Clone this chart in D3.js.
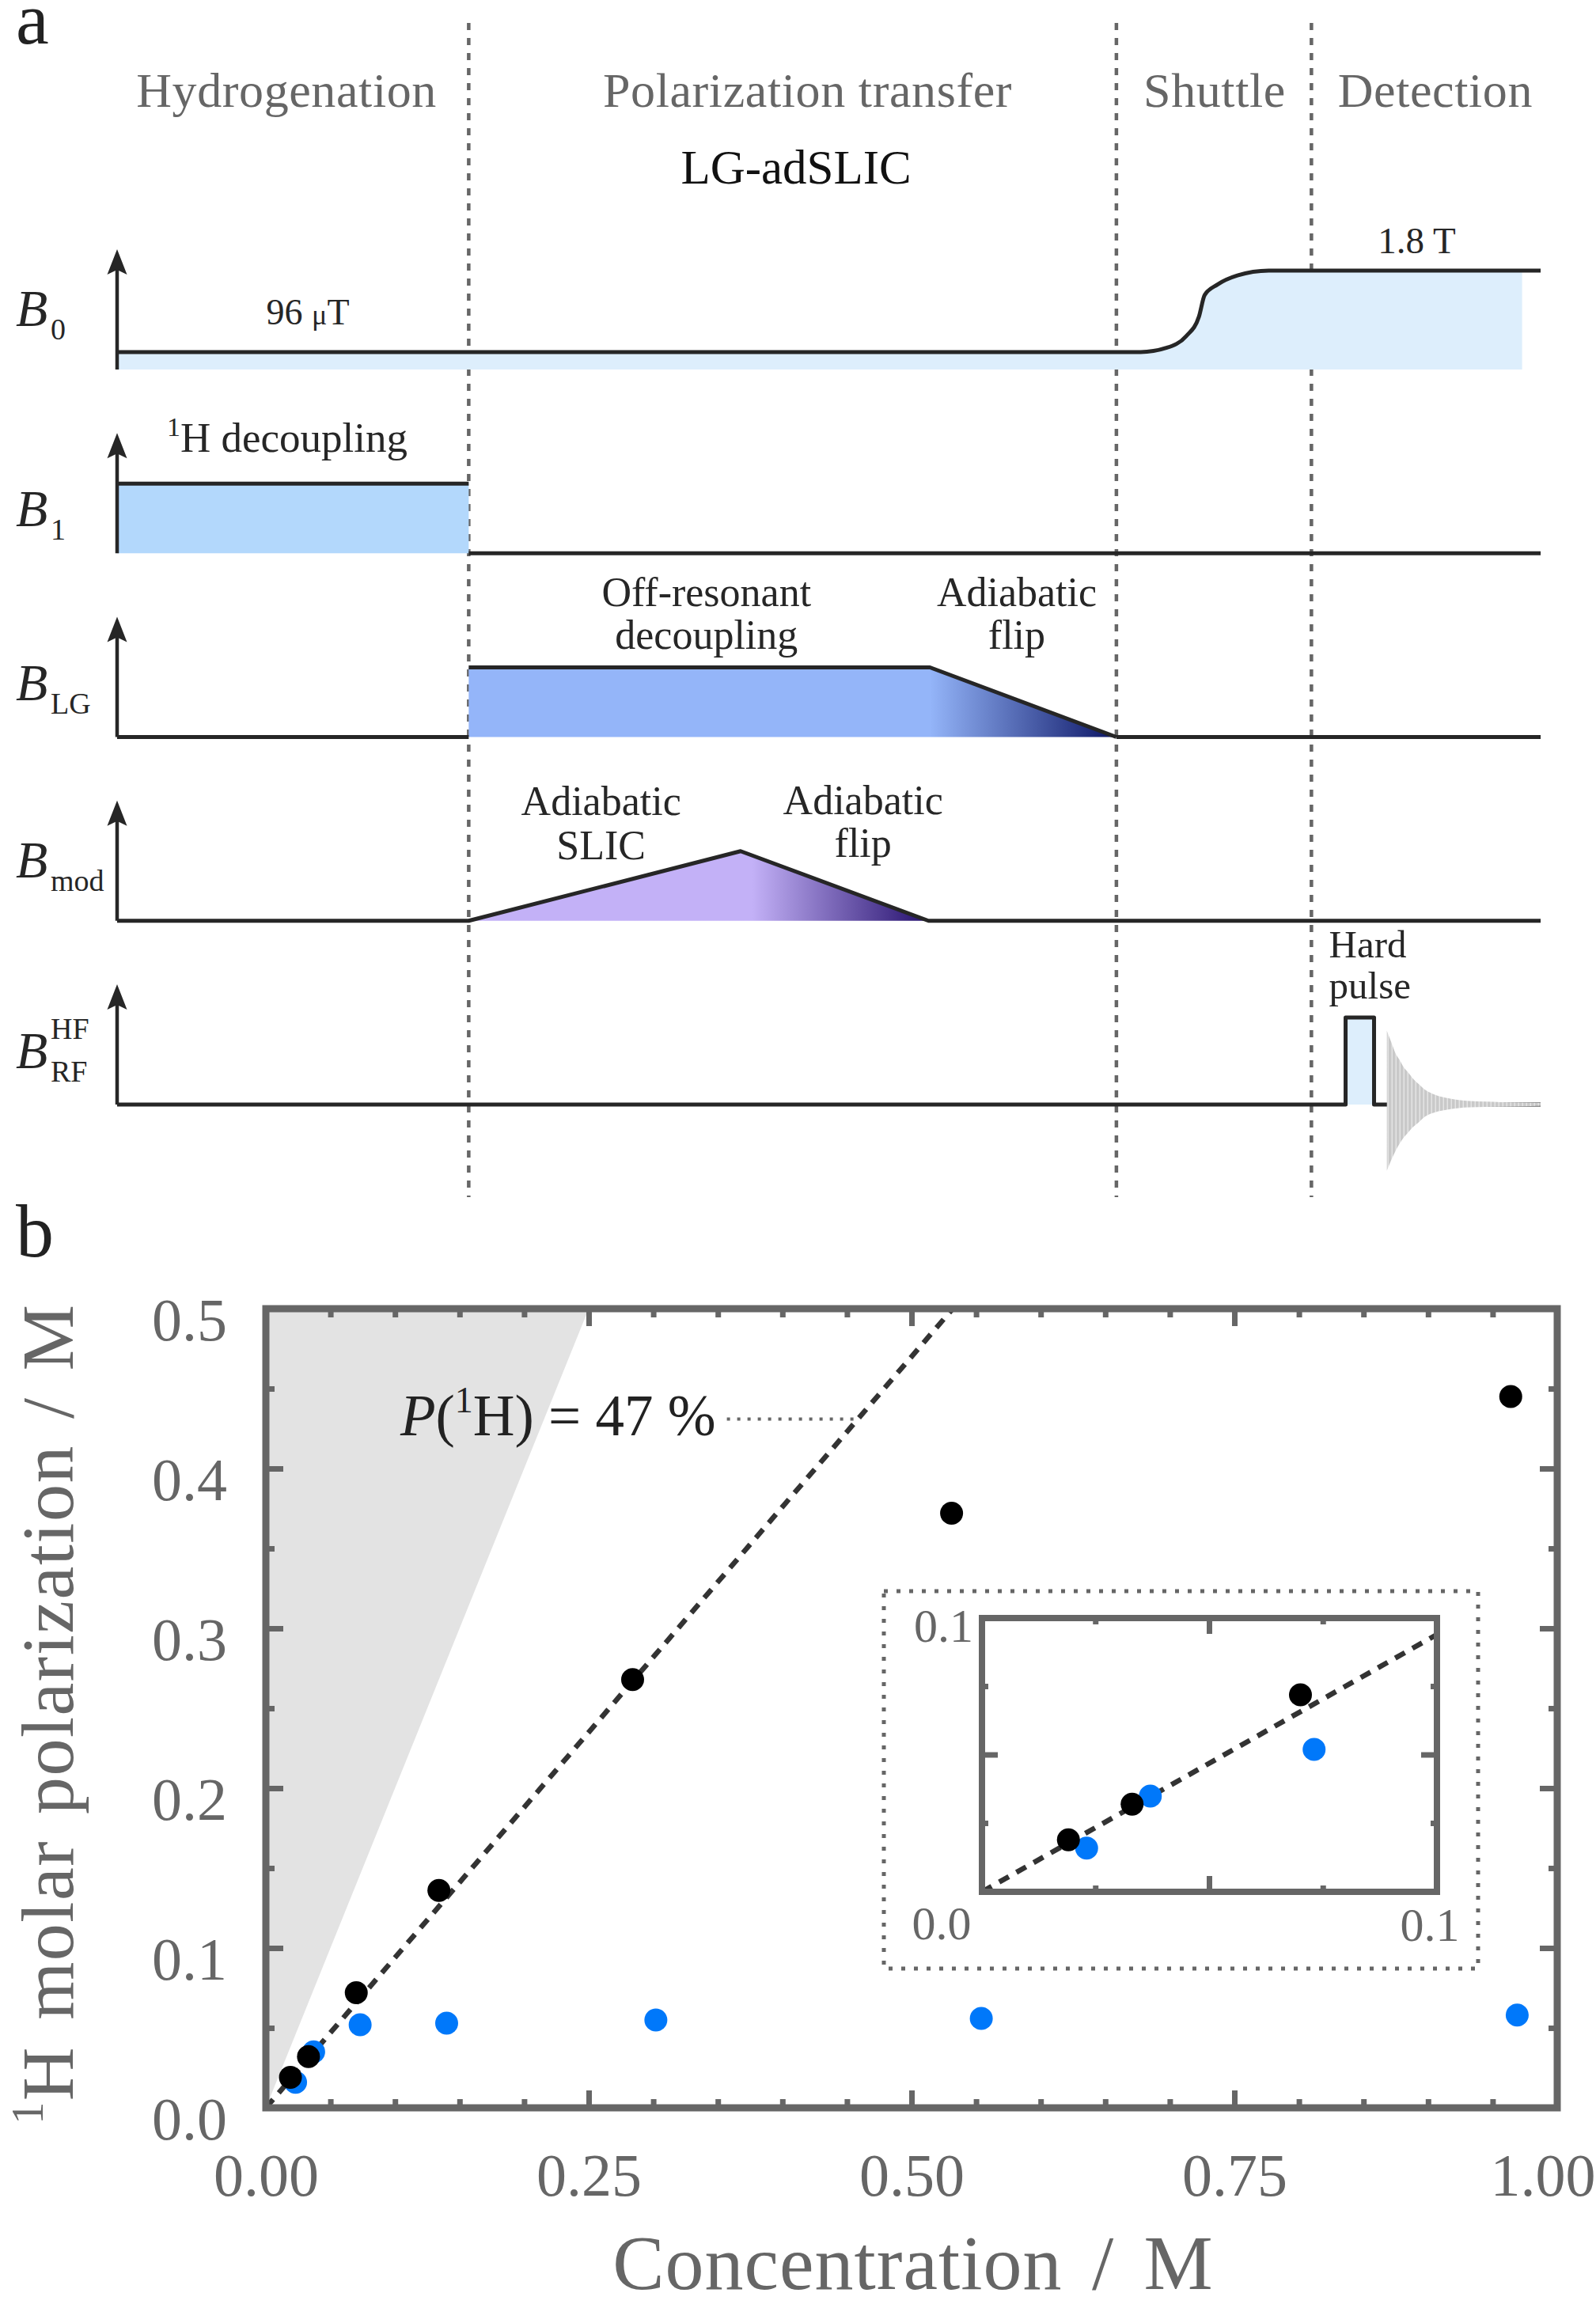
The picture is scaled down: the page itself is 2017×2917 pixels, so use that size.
<!DOCTYPE html>
<html>
<head>
<meta charset="utf-8">
<script src="https://cdn.jsdelivr.net/npm/d3@7"></script>
<style>
  body { margin: 0; background: #fff; }
  svg text { font-family: "Liberation Serif", "Times New Roman", serif; }
</style>
</head>
<body>
<svg id="fig" width="2017" height="2917"></svg>
<script>
// ---------- panel a : sequence (time in a.u. 0-100, field level in units of B1) ----------
const phaseNames   = ["Hydrogenation", "Polarization transfer", "Shuttle", "Detection"];
const phaseCentres = [11.9, 48.5, 77.1, 92.6];
const phaseBounds  = [24.7, 70.2, 83.9];

const b0Time   = [0, 71.9, 73.7, 75.1, 76.0, 76.4, 77.3, 78.7, 80.9, 84.0, 98.7, 100];
const b0Level  = [0.25, 0.25, 0.31, 0.48, 0.76, 1.07, 1.22, 1.35, 1.42, 1.42, 1.42, 1.42];
const b0FillEnd = 98.7;

const b1Time   = [0, 24.7];
const lgTime   = [24.7, 57.1, 70.2];
const lgLevel  = [1, 1, 0];
const modTime  = [24.7, 43.8, 57.0];
const modLevel = [0, 1, 0];
const pulseTime  = [86.3, 88.3];
const pulseLevel = 1.25;
const fidTime  = [89.2, 89.5, 89.8, 90.1, 90.4, 90.7, 91.0, 91.4, 91.9, 92.6, 93.5, 95.0, 97.2, 100];
const fidUpper = [1.06, 0.90, 0.74, 0.64, 0.53, 0.46, 0.38, 0.30, 0.21, 0.14, 0.09, 0.05, 0.035, 0.023];
const fidLower = [0.95, 0.80, 0.67, 0.56, 0.47, 0.40, 0.33, 0.26, 0.17, 0.11, 0.07, 0.04, 0.03, 0.02];

// ---------- panel b : polarization vs concentration ----------
const concBlack = [0.019, 0.033, 0.070, 0.134, 0.284, 0.531, 0.964];
const polBlack  = [0.019, 0.032, 0.072, 0.136, 0.268, 0.372, 0.445];
const concBlue  = [0.023, 0.037, 0.073, 0.140, 0.302, 0.554, 0.969];
const polBlue   = [0.016, 0.035, 0.052, 0.053, 0.055, 0.056, 0.058];
const fitSlope  = 0.94;   // 2 x 47 %
const fullSlope = 2;      // 100 % of both protons
const xTicks = [0, 0.25, 0.5, 0.75, 1];
const yTicks = [0, 0.1, 0.2, 0.3, 0.4, 0.5];
const insetTicks = [0.025, 0.05, 0.075];

const svg = d3.select("#fig");
svg.append("rect").attr("width", 2017).attr("height", 2917).attr("fill", "#fff");
const ink = "#262626", grey = "#666";

/**
 * Panel a
 */
const t = d3.scaleLinear([0, 100], [148, 1947]);
const rowBase = d3.scaleLinear([0, 4], [467, 1396]);
const amp = d3.scaleLinear([0, 1], [0, 88]);
const yAt = (row, level) => rowBase(row) - amp(level);

const defs = svg.append("defs");
function gradient(id, t0, t1, c0, c1) {
  const g = defs.append("linearGradient").attr("id", id)
    .attr("gradientUnits", "userSpaceOnUse")
    .attr("x1", t(t0)).attr("x2", t(t1)).attr("y1", 0).attr("y2", 0);
  g.append("stop").attr("offset", 0).attr("stop-color", c0);
  g.append("stop").attr("offset", 1).attr("stop-color", c1);
}
gradient("gradLG", lgTime[1], lgTime[2], "#94b5f9", "#0c1565");
gradient("gradMod", modTime[1] + 0.8, modTime[2], "#c3b1f7", "#25106d");

// striped fill for the FID
const stripes = defs.append("pattern").attr("id", "fidStripes")
  .attr("patternUnits", "userSpaceOnUse").attr("width", 5).attr("height", 10);
stripes.append("rect").attr("width", 5).attr("height", 10).attr("fill", "#e4e4e4");
stripes.append("rect").attr("width", 3.5).attr("height", 10).attr("fill", "#c9c9c9");

const a = svg.append("g");

// phase separators
a.selectAll(".sep").data(phaseBounds).enter().append("line")
  .attr("x1", d => t(d)).attr("x2", d => t(d))
  .attr("y1", 29).attr("y2", 1513)
  .attr("stroke", grey).attr("stroke-width", 4.5).attr("stroke-dasharray", "9 10");

a.selectAll(".phase").data(phaseNames).enter().append("text")
  .attr("x", (d, i) => t(phaseCentres[i])).attr("y", 135)
  .attr("text-anchor", "middle").attr("font-size", 62).attr("letter-spacing", 0.6)
  .attr("fill", grey).text(d => d);

a.append("text").attr("x", t(47.7)).attr("y", 232).attr("text-anchor", "middle")
  .attr("font-size", 61).attr("fill", "#111").text("LG-adSLIC");

const line = d3.line().x(d => t(d[0])).y(d => d[1]);

// fills first
const b0Pts = b0Time.map((d, i) => [d, b0Level[i]]);
a.append("path")
  .datum(b0Pts.filter(d => d[0] <= b0FillEnd))
  .attr("fill", "#ddeefc")
  .attr("d", d3.area().curve(d3.curveMonotoneX).x(d => t(d[0])).y0(yAt(0, 0)).y1(d => yAt(0, d[1])));

a.append("rect").attr("x", t(b1Time[0])).attr("width", t(b1Time[1]) - t(b1Time[0]))
  .attr("y", yAt(1, 1)).attr("height", amp(1)).attr("fill", "#b3d8fc");

const lgPts = lgTime.map((d, i) => [d, yAt(2, lgLevel[i])]);
a.append("path").attr("fill", "url(#gradLG)")
  .attr("d", line([[lgTime[0], yAt(2, 0)], ...lgPts]) + "Z");

const modPts = modTime.map((d, i) => [d, yAt(3, modLevel[i])]);
a.append("path").attr("fill", "url(#gradMod)").attr("d", line(modPts) + "Z");

a.append("rect").attr("x", t(pulseTime[0])).attr("width", t(pulseTime[1]) - t(pulseTime[0]))
  .attr("y", yAt(4, pulseLevel)).attr("height", amp(pulseLevel)).attr("fill", "#ddeefc");

// traces
const trace = (pts, curve) => a.append("path")
  .attr("d", line.curve(curve || d3.curveLinear)(pts))
  .attr("fill", "none").attr("stroke", ink).attr("stroke-width", 5)
  .attr("stroke-linejoin", "round");

trace(b0Pts.map(d => [d[0], yAt(0, d[1])]), d3.curveMonotoneX);
trace([[b1Time[0], yAt(1, 1)], [b1Time[1], yAt(1, 1)]]);
trace([[b1Time[1], yAt(1, 0)], [100, yAt(1, 0)]]);
trace([[0, yAt(2, 0)], [lgTime[0], yAt(2, 0)]]);
trace(lgPts);
trace([[lgTime[2], yAt(2, 0)], [100, yAt(2, 0)]]);
trace([[0, yAt(3, 0)], ...modPts, [100, yAt(3, 0)]]);
trace([[0, yAt(4, 0)], [pulseTime[0], yAt(4, 0)], [pulseTime[0], yAt(4, pulseLevel)],
       [pulseTime[1], yAt(4, pulseLevel)], [pulseTime[1], yAt(4, 0)], [100, yAt(4, 0)]]);

// free induction decay envelope
a.append("path")
  .datum(fidTime.map((d, i) => [d, fidUpper[i], fidLower[i]]))
  .attr("fill", "url(#fidStripes)")
  .attr("d", d3.area().curve(d3.curveMonotoneX)
    .x(d => t(d[0])).y0(d => rowBase(4) + amp(d[2])).y1(d => rowBase(4) - amp(d[1])));

// vertical axes with arrow heads
d3.range(5).forEach(i => {
  const x0 = t(0), yb = rowBase(i), tip = yb - 152;
  a.append("line").attr("x1", x0).attr("x2", x0).attr("y1", yb).attr("y2", tip + 20)
    .attr("stroke", ink).attr("stroke-width", 4.5);
  a.append("path")
    .attr("d", `M${x0},${tip} L${x0 + 12.5},${tip + 32} L${x0},${tip + 26} L${x0 - 12.5},${tip + 32}Z`)
    .attr("fill", ink);
});

// field symbols
const symOffset = [55, 34, 47, 55, 46];
const symSub = ["0", "1", "LG", "mod", "RF"];
symSub.forEach((s, i) => {
  const yb = rowBase(i) - symOffset[i];
  a.append("text").attr("x", 20).attr("y", yb).attr("font-size", 66)
    .attr("font-style", "italic").attr("fill", ink).text("B");
  a.append("text").attr("x", 64).attr("y", yb + 17).attr("font-size", 38)
    .attr("fill", ink).text(s);
});
a.append("text").attr("x", 64).attr("y", rowBase(4) - symOffset[4] - 37)
  .attr("font-size", 38).attr("fill", ink).text("HF");

// annotations, one text per line
function label(x, y, lines, size, anchor, gap) {
  lines.forEach((l, i) => a.append("text")
    .attr("x", x).attr("y", y + i * (gap || 54)).attr("font-size", size)
    .attr("fill", ink).attr("text-anchor", anchor || "middle").text(l));
}
const mu = a.append("text").attr("x", t(13.4)).attr("y", rowBase(0) - 57)
  .attr("font-size", 46).attr("fill", ink).attr("text-anchor", "middle");
mu.append("tspan").text("96 ");
mu.append("tspan").attr("font-size", 36).text("μ");
mu.append("tspan").text("T");
label(t(91.3), rowBase(0) - 147, ["1.8 T"], 47);

const dec = a.append("text").attr("x", t(11.95)).attr("y", rowBase(1) - 128)
  .attr("font-size", 53).attr("fill", ink).attr("text-anchor", "middle");
dec.append("tspan").attr("font-size", 34).attr("dy", -20).text("1");
dec.append("tspan").attr("dy", 20).text("H decoupling");

label(t(41.4), rowBase(2) - 166, ["Off-resonant", "decoupling"], 52);
label(t(63.2), rowBase(2) - 166, ["Adiabatic", "flip"], 52, "middle", 54);
label(t(34.0), rowBase(3) - 134, ["Adiabatic", "SLIC"], 52, "middle", 56);
label(t(52.4), rowBase(3) - 135, ["Adiabatic", "flip"], 52, "middle", 54);
label(t(pulseTime[0]) - 21, rowBase(4) - 186, ["Hard", "pulse"], 49, "start", 52);

// panel letters
svg.append("text").attr("x", 20).attr("y", 55).attr("font-size", 94)
  .attr("font-family", "Liberation Sans, Arial, sans-serif").attr("fill", "#222").text("a");
svg.append("text").attr("x", 20).attr("y", 1588).attr("font-size", 96)
  .attr("font-family", "Liberation Sans, Arial, sans-serif").attr("fill", "#222").text("b");

/**
 * Panel b
 */
const x = d3.scaleLinear([0, 1], [336, 1968]);
const y = d3.scaleLinear([0, 0.5], [2664, 1654]);
const b = svg.append("g");

defs.append("clipPath").attr("id", "clipMain").append("rect")
  .attr("x", x(0)).attr("y", y(0.5)).attr("width", x(1) - x(0)).attr("height", y(0) - y(0.5));

b.append("path").attr("clip-path", "url(#clipMain)")
  .attr("d", `M${x(0)},${y(0)} L${x(0.5 / fullSlope)},${y(0.5)} L${x(0)},${y(0.5)}Z`)
  .attr("fill", "#e3e3e3");

b.append("line").attr("clip-path", "url(#clipMain)")
  .attr("x1", x(0)).attr("y1", y(0)).attr("x2", x(0.5 / fitSlope)).attr("y2", y(0.5))
  .attr("stroke", "#333").attr("stroke-width", 6.5).attr("stroke-dasharray", "14 11");

// annotation with leader
const leadY = 0.431, leadX0 = 0.357;
b.append("line").attr("x1", x(leadX0)).attr("x2", x(leadY / fitSlope))
  .attr("y1", y(leadY)).attr("y2", y(leadY))
  .attr("stroke", grey).attr("stroke-width", 4).attr("stroke-dasharray", "4 9");
const ann = b.append("text").attr("x", x(leadX0) - 14).attr("y", y(leadY) + 21)
  .attr("text-anchor", "end").attr("font-size", 73).attr("fill", "#222");
ann.append("tspan").attr("font-style", "italic").text("P");
ann.append("tspan").text("(");
ann.append("tspan").attr("font-size", 46).attr("dy", -29).text("1");
ann.append("tspan").attr("dy", 29).text("H) = 47 %");

// frame and ticks
function styleAxis(g, w) {
  g.select(".domain").remove();
  g.selectAll(".tick line").attr("stroke", grey).attr("stroke-width", w);
  g.attr("font-family", null).attr("font-size", null);
  g.selectAll(".tick text").attr("fill", grey);
}
const xMinor = d3.range(21).map(i => i * 0.05).filter(v => !xTicks.some(m => Math.abs(m - v) < 1e-6));
const yMinor = d3.range(11).map(i => i * 0.05).filter(v => !yTicks.some(m => Math.abs(m - v) < 1e-6));

[["bottom", y(0)], ["top", y(0.5)]].forEach(([side, pos]) => {
  const axis = side === "bottom" ? d3.axisBottom : d3.axisTop;
  b.append("g").attr("transform", `translate(0,${pos})`)
    .call(axis(x).tickValues(xMinor).tickSize(-11).tickFormat(""))
    .call(g => styleAxis(g, 7));
  const gm = b.append("g").attr("transform", `translate(0,${pos})`)
    .call(axis(x).tickValues(xTicks).tickSize(-22).tickPadding(57)
      .tickFormat(side === "bottom" ? d3.format(".2f") : ""))
    .call(g => styleAxis(g, 7));
  gm.selectAll("text").attr("font-size", 76);
  // keep the last label inside the page
  gm.selectAll("text").each(function () {
    const bb = this.getBBox(), right = x(d3.select(this).datum()) + bb.x + bb.width;
    if (right > 2016) d3.select(this).attr("dx", 2016 - right);
  });
});
[["left", x(0)], ["right", x(1)]].forEach(([side, pos]) => {
  const axis = side === "left" ? d3.axisLeft : d3.axisRight;
  b.append("g").attr("transform", `translate(${pos},0)`)
    .call(axis(y).tickValues(yMinor).tickSize(-11).tickFormat(""))
    .call(g => styleAxis(g, 7));
  const gm = b.append("g").attr("transform", `translate(${pos},0)`)
    .call(axis(y).tickValues(yTicks).tickSize(-22).tickPadding(49)
      .tickFormat(side === "left" ? d3.format(".1f") : ""))
    .call(g => styleAxis(g, 7));
  gm.selectAll("text").attr("font-size", 76).attr("dy", "0.52em");
});
b.append("rect").attr("x", x(0)).attr("y", y(0.5))
  .attr("width", x(1) - x(0)).attr("height", y(0) - y(0.5))
  .attr("fill", "none").attr("stroke", grey).attr("stroke-width", 9);

// axis titles
b.append("text").attr("x", 1154).attr("y", 2893).attr("text-anchor", "middle")
  .attr("font-size", 98).attr("fill", grey).attr("letter-spacing", 1)
  .attr("word-spacing", 12).text("Concentration / M");
const yt = b.append("text").attr("transform", "translate(92,2166) rotate(-90)")
  .attr("text-anchor", "middle").attr("font-size", 94).attr("fill", grey)
  .attr("letter-spacing", 1.5).attr("word-spacing", 8);
yt.append("tspan").attr("font-size", 56).attr("dy", -38).text("1");
yt.append("tspan").attr("dy", 38).text("H molar polarization / M");

// data
function dots(g, xs, ys, sx, sy, colour) {
  g.selectAll(null).data(xs.map((d, i) => [d, ys[i]])).enter().append("circle")
    .attr("cx", d => sx(d[0])).attr("cy", d => sy(d[1])).attr("r", 14.5).attr("fill", colour);
}
dots(b, concBlue, polBlue, x, y, "#0078fa");
dots(b, concBlack, polBlack, x, y, "#000");

// inset
const ix = d3.scaleLinear([0, 0.1], [1241, 1816]);
const iy = d3.scaleLinear([0, 0.1], [2391, 2045]);
const ins = svg.append("g");
ins.append("rect").attr("x", 1117).attr("y", 2011).attr("width", 751).attr("height", 477)
  .attr("fill", "none").attr("stroke", grey).attr("stroke-width", 5).attr("stroke-dasharray", "5 11");

defs.append("clipPath").attr("id", "clipInset").append("rect")
  .attr("x", ix(0)).attr("y", iy(0.1)).attr("width", ix(0.1) - ix(0)).attr("height", iy(0) - iy(0.1));
ins.append("line").attr("clip-path", "url(#clipInset)")
  .attr("x1", ix(0)).attr("y1", iy(0)).attr("x2", ix(0.1)).attr("y2", iy(0.1 * fitSlope))
  .attr("stroke", "#333").attr("stroke-width", 6.5).attr("stroke-dasharray", "14 11");

const tickLen = v => Math.abs(v - 0.05) < 1e-6 ? 20 : 8;
insetTicks.forEach(v => {
  ins.append("line").attr("x1", ix(v)).attr("x2", ix(v)).attr("y1", iy(0)).attr("y2", iy(0) - tickLen(v))
    .attr("stroke", grey).attr("stroke-width", 7);
  ins.append("line").attr("x1", ix(v)).attr("x2", ix(v)).attr("y1", iy(0.1)).attr("y2", iy(0.1) + tickLen(v))
    .attr("stroke", grey).attr("stroke-width", 7);
  ins.append("line").attr("y1", iy(v)).attr("y2", iy(v)).attr("x1", ix(0)).attr("x2", ix(0) + tickLen(v))
    .attr("stroke", grey).attr("stroke-width", 7);
  ins.append("line").attr("y1", iy(v)).attr("y2", iy(v)).attr("x1", ix(0.1)).attr("x2", ix(0.1) - tickLen(v))
    .attr("stroke", grey).attr("stroke-width", 7);
});
ins.append("rect").attr("x", ix(0)).attr("y", iy(0.1))
  .attr("width", ix(0.1) - ix(0)).attr("height", iy(0) - iy(0.1))
  .attr("fill", "none").attr("stroke", grey).attr("stroke-width", 8);

ins.append("text").attr("x", ix(0) - 11).attr("y", iy(0.1) + 30).attr("text-anchor", "end")
  .attr("font-size", 60).attr("fill", grey).text("0.1");
ins.append("text").attr("x", ix(0) - 51).attr("y", iy(0) + 60).attr("text-anchor", "middle")
  .attr("font-size", 60).attr("fill", grey).text("0.0");
ins.append("text").attr("x", ix(0.1) - 9).attr("y", iy(0) + 62).attr("text-anchor", "middle")
  .attr("font-size", 60).attr("fill", grey).text("0.1");

dots(ins, concBlue.slice(0, 3), polBlue.slice(0, 3), ix, iy, "#0078fa");
dots(ins, concBlack.slice(0, 3), polBlack.slice(0, 3), ix, iy, "#000");
</script>
</body>
</html>
